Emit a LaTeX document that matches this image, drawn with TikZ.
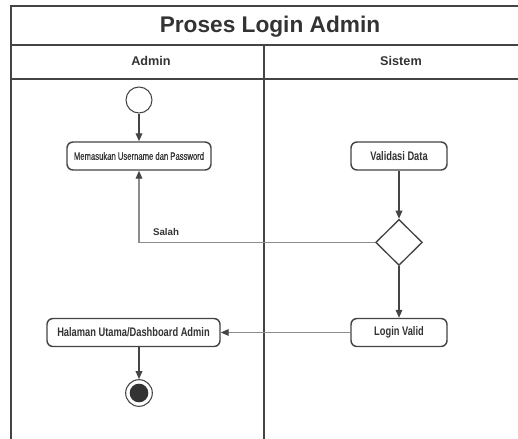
\documentclass[tikz,border=0pt]{standalone}
\usepackage{fontspec}
\setmainfont{Liberation Sans}
\newfontfamily\narrowfont[FakeStretch=0.75]{Liberation Sans}
\newfontfamily\slimfont[FakeStretch=0.72, FakeBold=0.6]{Liberation Sans}
\usepackage{tikz}
\usetikzlibrary{shapes,arrows.meta,positioning,calc}
\definecolor{linegray}{HTML}{444444}
\definecolor{textgray}{HTML}{333333}
\definecolor{lightline}{HTML}{8C8C8C}

\begin{document}
\begin{tikzpicture}[
    x=0.75pt, y=-0.75pt,
    lane/.style={draw=linegray, line width=1.1pt},
    head/.style={anchor=base, text=textgray, font=\bfseries\fontsize{9.5}{11}\selectfont},
    act/.style={rectangle, draw=linegray, line width=1.1pt, rounded corners=4.5pt, minimum height=21pt, inner sep=0pt, align=center, text=textgray, font=\narrowfont\bfseries\fontsize{9.3}{11}\selectfont},
    decision/.style={diamond, draw=linegray, line width=1pt, minimum width=35pt, minimum height=34.5pt, inner sep=0pt},
    initial/.style={circle, draw=linegray, line width=0.8pt, minimum size=19.5pt, inner sep=0pt},
    final/.style={circle, draw=linegray, line width=0.8pt, minimum size=20pt, inner sep=0pt, path picture={\fill[textgray] (path picture bounding box.center) circle (7pt);}},
    arrow/.style={-{Triangle[length=6pt,width=5pt]}, draw=linegray, line width=1pt},
    backarrow/.style={-{Triangle[length=6pt,width=5pt,color=linegray]}, draw=lightline, line width=0.9pt}
]
\useasboundingbox (0,0) rectangle (518,439);

% swimlanes
\draw[lane] (518,6) -- (11,6) -- (11,439);
\draw[lane] (11,45) -- (518,45);
\draw[lane] (11,79) -- (518,79);
\draw[lane] (264,45) -- (264,439);

\node[anchor=base, text=textgray, font=\bfseries\fontsize{17}{20}\selectfont] (title) at (270,32.5) {Proses Login Admin};
\node[head] (admin) at (151,65.5) {Admin};
\node[head] (sistem) at (401,65.5) {Sistem};

\node[initial] (start) at (139,100) {};
\node[act, minimum width=108pt, font=\slimfont\fontsize{8}{9}\selectfont] (input) at (139,156) {Memasukan Username dan Password};
\node[act, minimum width=72pt] (validasi) at (399,156) {Validasi Data};
\node[decision, below=36pt of validasi] (cek) {};
\node[act, minimum width=72pt] (valid) at (399,332.5) {Login Valid};
\node[act, minimum width=129.75pt] (home) at (133.5,332.5) {Halaman Utama/Dashboard Admin};
\node[final] (end) at (139,393) {};

\draw[arrow] (start) -- (input);
\draw[arrow] (validasi) -- (cek);
\draw[backarrow] (cek.west) -| (input.south)
    node[pos=0.5, anchor=base west, xshift=6.75pt, yshift=5.25pt, text=textgray, font=\bfseries\fontsize{7.3}{9}\selectfont] {Salah};
\draw[arrow] (cek) -- (valid);
\draw[backarrow] (valid.west) -- (valid.west -| home.east);
\draw[arrow] (home.south -| end) -- (end);

\end{tikzpicture}
\end{document}
